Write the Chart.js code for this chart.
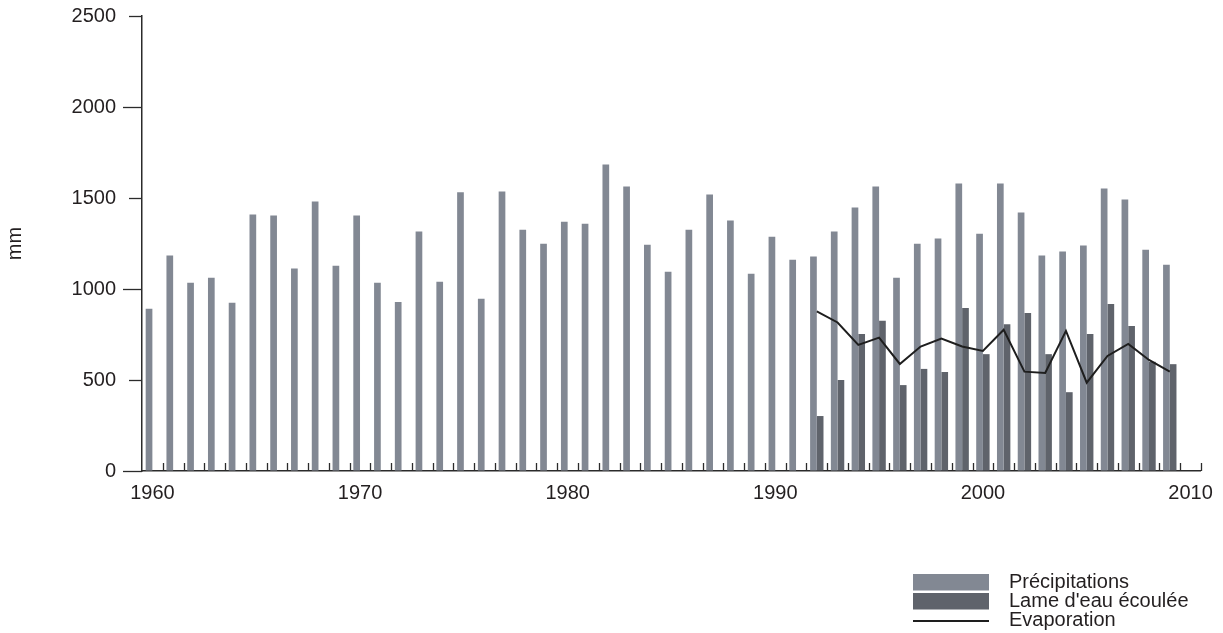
<!DOCTYPE html>
<html>
<head>
<meta charset="utf-8">
<script src="https://cdn.jsdelivr.net/npm/chart.js@4/dist/chart.umd.min.js"></script>
<style>
  html, body { margin: 0; padding: 0; background: #ffffff; }
  #wrap { width: 1223px; height: 633px; position: relative; }
</style>
</head>
<body>
<div id="wrap"><canvas id="c" width="1223" height="633"></canvas></div>
<script>
// ---------- DATA ----------
const years = [1960,1961,1962,1963,1964,1965,1966,1967,1968,1969,
               1970,1971,1972,1973,1974,1975,1976,1977,1978,1979,
               1980,1981,1982,1983,1984,1985,1986,1987,1988,1989,
               1990,1991,1992,1993,1994,1995,1996,1997,1998,1999,
               2000,2001,2002,2003,2004,2005,2006,2007,2008,2009,
               2010];
const precipitations = [891,1184,1035,1062,924,1409,1404,1112,1481,1128,
                        1404,1035,929,1316,1040,1531,946,1536,1326,1249,
                        1370,1359,1684,1563,1243,1095,1326,1519,1376,1084,
                        1287,1161,1178,1316,1448,1563,1062,1249,1277,1580,
                        1304,1580,1420,1184,1206,1239,1552,1492,1215,1133,
                        null];
const lameEauEcoulee = [null,null,null,null,null,null,null,null,null,null,
                        null,null,null,null,null,null,null,null,null,null,
                        null,null,null,null,null,null,null,null,null,null,
                        null,null,302,500,753,825,472,561,544,895,
                        642,807,868,642,433,753,917,797,600,587,
                        null];
const evaporation = [null,null,null,null,null,null,null,null,null,null,
                     null,null,null,null,null,null,null,null,null,null,
                     null,null,null,null,null,null,null,null,null,null,
                     null,null,877,816,693,733,588,684,728,684,
                     660,776,546,539,770,485,632,698,610,546,
                     null];
const labeledYears = [1960,1970,1980,1990,2000,2010];
const yTickValues = [0,500,1000,1500,2000,2500];
const seriesNames = ['Précipitations', "Lame d'eau écoulée", 'Evaporation'];
const yAxisTitle = 'mm';

// ---------- STYLE ----------
const FONT = '"Liberation Sans", Arial, Helvetica, sans-serif';
const TEXT = '#231f20';
const AXIS = '#2b2b2b';
const C_PRECIP = '#828893';
const C_LAME = '#5f636b';
const C_EVAP = '#1e1e1e';

const tickPlugin = {
  id: 'tickMarks',
  afterDraw(chart) {
    const ctx = chart.ctx;
    const xs = chart.scales.x, ys = chart.scales.y;
    ctx.save();
    ctx.strokeStyle = AXIS;
    ctx.lineWidth = 1.3;
    const w = xs.getPixelForValue(1) - xs.getPixelForValue(0);
    const x0 = xs.getPixelForValue(0) - w / 2;
    const base = ys.getPixelForValue(0);
    for (let i = 1; i <= years.length; i++) {
      const x = Math.round(x0 + i * w) + 0.5;
      ctx.beginPath();
      ctx.moveTo(x, base);
      ctx.lineTo(x, base - 8);
      ctx.stroke();
    }
    ys.ticks.forEach(t => {
      const y = Math.round(ys.getPixelForValue(t.value)) + 0.5;
      const len = (t.value % 1000 === 0) ? 19 : 13;
      ctx.beginPath();
      ctx.moveTo(ys.right, y);
      ctx.lineTo(ys.right - len, y);
      ctx.stroke();
    });
    ctx.restore();
  }
};

const legendPlugin = {
  id: 'customLegend',
  afterDraw(chart) {
    const ctx = chart.ctx;
    const ds = chart.data.datasets;
    const order = [1, 2, 0];
    const sx = 913, sw = 76, tx = 1009;
    const rowCenters = [582, 601, 620];
    ctx.save();
    ctx.font = '20px ' + FONT;
    ctx.textBaseline = 'middle';
    ctx.textAlign = 'left';
    order.forEach((di, r) => {
      const d = ds[di];
      const cy = rowCenters[r];
      if (d.type === 'line') {
        ctx.strokeStyle = d.borderColor;
        ctx.lineWidth = 2;
        ctx.beginPath();
        ctx.moveTo(sx, cy + 1);
        ctx.lineTo(sx + sw, cy + 1);
        ctx.stroke();
      } else {
        ctx.fillStyle = d.backgroundColor;
        ctx.fillRect(sx, cy - 8, sw, 16.5);
      }
      ctx.fillStyle = TEXT;
      ctx.fillText(d.label, tx, cy);
    });
    ctx.restore();
  }
};

new Chart(document.getElementById('c'), {
  data: {
    labels: years,
    datasets: [
      {
        type: 'line',
        label: seriesNames[2],
        data: evaporation,
        borderColor: C_EVAP,
        borderWidth: 2,
        pointRadius: 0,
        tension: 0,
        spanGaps: false,
        order: 0
      },
      {
        type: 'bar',
        label: seriesNames[0],
        data: precipitations,
        backgroundColor: C_PRECIP,
        borderWidth: 0,
        barPercentage: 1,
        categoryPercentage: 0.645,
        order: 1
      },
      {
        type: 'bar',
        label: seriesNames[1],
        data: lameEauEcoulee,
        backgroundColor: C_LAME,
        borderWidth: 0,
        barPercentage: 1,
        categoryPercentage: 0.645,
        order: 2
      }
    ]
  },
  options: {
    responsive: false,
    animation: false,
    devicePixelRatio: 1,
    layout: { padding: { top: 16, right: 22, bottom: 118, left: 0 } },
    plugins: {
      legend: { display: false },
      tooltip: { enabled: false }
    },
    scales: {
      x: {
        type: 'category',
        offset: true,
        grid: { display: true, drawOnChartArea: false, drawTicks: false, color: 'rgba(0,0,0,0)' },
        border: { display: true, color: AXIS, width: 1.5 },
        ticks: {
          autoSkip: false,
          maxRotation: 0,
          minRotation: 0,
          padding: 10,
          color: TEXT,
          font: { family: FONT, size: 20 },
          callback: function(value, index) {
            const yr = years[index];
            return labeledYears.includes(yr) ? String(yr) : '';
          }
        }
      },
      y: {
        min: 0,
        max: 2500,
        afterBuildTicks: (s) => { s.ticks = yTickValues.map(v => ({ value: v })); },
        afterFit: (s) => { s.width = 142; s.paddingTop = 0; s.paddingBottom = 0; },
        grid: { display: true, drawOnChartArea: false, drawTicks: false, color: 'rgba(0,0,0,0)' },
        border: { display: true, color: AXIS, width: 1.5 },
        ticks: {
          padding: 26,
          color: TEXT,
          font: { family: FONT, size: 20 },
          callback: (v) => String(v)
        },
        title: {
          display: true,
          text: yAxisTitle,
          color: TEXT,
          font: { family: FONT, size: 20 },
          padding: { top: 3, bottom: 4 }
        }
      }
    }
  },
  plugins: [tickPlugin, legendPlugin]
});
</script>
</body>
</html>
